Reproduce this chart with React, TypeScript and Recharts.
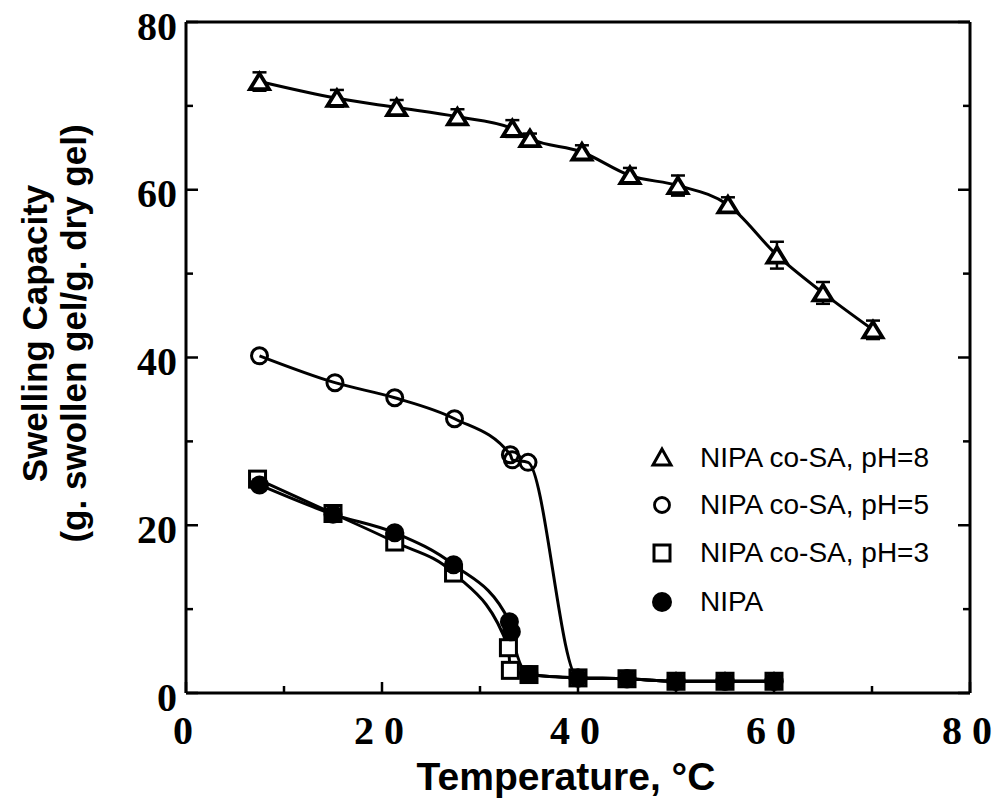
import React from 'react';
import { ComposedChart, Line, XAxis, YAxis, ErrorBar, Legend } from 'recharts';

const xTicks = [0, 10, 20, 30, 40, 50, 60, 70, 80];
const yTicks = [0, 10, 20, 30, 40, 50, 60, 70, 80];

// NIPA co-SA, pH=8 (open triangles, with error bars)
const ph8Temp = [7.5, 15.4, 21.5, 27.7, 33.3, 35.1, 40.4, 45.3, 50.2, 55.3, 60.3, 65.0, 70.1];
const ph8Swell = [72.9, 70.9, 69.8, 68.7, 67.3, 66.1, 64.5, 61.7, 60.5, 58.2, 52.2, 47.7, 43.3];
const ph8Err = [1.1, 1.0, 0.9, 0.9, 1.0, 0.6, 0.8, 0.9, 1.2, 0.9, 1.6, 1.3, 1.1];

// NIPA co-SA, pH=5 (open circles)
const ph5Temp = [7.5, 15.2, 21.3, 27.4, 33.1, 33.3, 34.9, 40, 45, 50, 55, 60];
const ph5Swell = [40.2, 37.0, 35.2, 32.7, 28.4, 27.8, 27.5, 1.8, 1.7, 1.4, 1.4, 1.4];

// NIPA co-SA, pH=3 (open squares)
const ph3Temp = [7.3, 15.0, 21.3, 27.3, 32.9, 33.1, 35.0, 40, 45, 50, 55, 60];
const ph3Swell = [25.5, 21.4, 18.0, 14.3, 5.4, 2.7, 2.2, 1.8, 1.7, 1.4, 1.4, 1.4];

// NIPA (filled circles)
const nipaTemp = [7.5, 15.0, 21.3, 27.3, 33.0, 33.2, 35.0, 40, 45, 50, 55, 60];
const nipaSwell = [24.8, 21.3, 19.1, 15.3, 8.5, 7.3, 2.2, 1.8, 1.7, 1.4, 1.4, 1.4];

const legendLabels = ['NIPA co-SA, pH=8', 'NIPA co-SA, pH=5', 'NIPA co-SA, pH=3', 'NIPA'];

const ph8Data = ph8Temp.map((t, i) => ({ t, v: ph8Swell[i], err: ph8Err[i] }));
const ph5Data = ph5Temp.map((t, i) => ({ t, v: ph5Swell[i] }));
const ph3Data = ph3Temp.map((t, i) => ({ t, v: ph3Swell[i] }));
const nipaData = nipaTemp.map((t, i) => ({ t, v: nipaSwell[i] }));

const serif = "'Liberation Serif', 'Times New Roman', serif";
const sans = "'Liberation Sans', Arial, Helvetica, sans-serif";

function Triangle({ cx, cy }: any) {
  return (
    <polygon
      points={`${cx},${cy - 8} ${cx - 9.5},${cy + 7.5} ${cx + 9.5},${cy + 7.5}`}
      fill="#fff"
      stroke="#000"
      strokeWidth={3.8}
    />
  );
}

function OpenCircle({ cx, cy }: any) {
  return <circle cx={cx} cy={cy} r={8} fill="none" stroke="#000" strokeWidth={3} />;
}

function OpenSquare({ cx, cy }: any) {
  return <rect x={cx - 8} y={cy - 8} width={16} height={16} fill="#fff" stroke="#000" strokeWidth={3} />;
}

function FilledCircle({ cx, cy }: any) {
  return <circle cx={cx} cy={cy} r={9.5} fill="#000" stroke="none" />;
}

const isMajor = (v: number) => v % 20 === 0;

function LeftTick({ x, y, payload }: any) {
  const major = isMajor(payload.value);
  return (
    <g>
      <line x1={x} y1={y} x2={x + (major ? 12 : 7)} y2={y} stroke="#000" strokeWidth={2.5} />
      {major && (
        <text x={x - 9} y={y + 4} textAnchor="end" dominantBaseline="central"
          fontFamily={serif} fontWeight="bold" fontSize={40} fill="#000">
          {payload.value}
        </text>
      )}
    </g>
  );
}

function RightTick({ x, y, payload }: any) {
  const major = isMajor(payload.value);
  return <line x1={x} y1={y} x2={x - (major ? 12 : 7)} y2={y} stroke="#000" strokeWidth={2.5} />;
}

function BottomTick({ x, y, payload }: any) {
  const major = isMajor(payload.value);
  return (
    <g>
      <line x1={x} y1={y} x2={x} y2={y - (major ? 11 : 7)} stroke="#000" strokeWidth={2.5} />
      {major && (
        <text x={x - 3} y={y + 37} textAnchor="middle" dominantBaseline="central"
          fontFamily={serif} fontWeight="bold" fontSize={40} fill="#000">
          {String(payload.value).split('').join(' ')}
        </text>
      )}
    </g>
  );
}

function TopTick({ x, y, payload }: any) {
  const major = isMajor(payload.value);
  return <line x1={x} y1={y} x2={x} y2={y + (major ? 11 : 7)} stroke="#000" strokeWidth={2.5} />;
}

function YLabel({ viewBox }: any) {
  const cy = viewBox.y + viewBox.height / 2 - 24;
  const x1 = viewBox.x - 92;
  const x2 = viewBox.x - 53;
  const style = { fontFamily: sans, fontWeight: 'bold' as const, fontSize: 35, fill: '#000' };
  return (
    <g>
      <text x={x1} y={cy} transform={`rotate(-90 ${x1} ${cy})`} textAnchor="middle" dominantBaseline="central" style={style}>
        Swelling Capacity
      </text>
      <text x={x2} y={cy} transform={`rotate(-90 ${x2} ${cy})`} textAnchor="middle" dominantBaseline="central" style={style}>
        (g. swollen gel/g. dry gel)
      </text>
    </g>
  );
}

function XLabel({ viewBox }: any) {
  const cx = viewBox.x + viewBox.width / 2 - 12;
  return (
    <text x={cx} y={viewBox.y + 83} textAnchor="middle" dominantBaseline="central"
      fontFamily={sans} fontWeight="bold" fontSize={39} fill="#000">
      Temperature,  °C
    </text>
  );
}

const legendIcons = [
  <polygon key="t" points="22,6 13,22 31,22" fill="#fff" stroke="#000" strokeWidth={3} />,
  <circle key="c" cx={22} cy={15} r={7.5} fill="none" stroke="#000" strokeWidth={2.8} />,
  <rect key="s" x={14} y={7} width={16} height={16} fill="#fff" stroke="#000" strokeWidth={3} />,
  <circle key="f" cx={22} cy={15} r={10} fill="#000" />,
];

function LegendContent() {
  return (
    <div style={{ fontFamily: sans, fontSize: 28, color: '#000' }}>
      {legendLabels.map((label, i) => (
        <div key={label} style={{ display: 'flex', alignItems: 'center', height: i === 2 ? 50 : 47 }}>
          <svg width={44} height={30}>{legendIcons[i]}</svg>
          <span style={{ marginLeft: 16, lineHeight: 1 }}>{label}</span>
        </div>
      ))}
    </div>
  );
}

export default function App() {
  return (
    <div style={{ position: 'absolute', left: 0, top: 0, background: '#fff' }}>
      <ComposedChart width={1004} height={802} margin={{ top: 21, right: 33, bottom: 79, left: 126 }}>
        <XAxis
          xAxisId="x"
          dataKey="t"
          type="number"
          domain={[0, 80]}
          ticks={xTicks}
          interval={0}
          allowDataOverflow
          height={30}
          tickSize={0}
          tickMargin={0}
          tickLine={false}
          axisLine={{ stroke: '#000', strokeWidth: 3 }}
          tick={<BottomTick />}
          label={<XLabel />}
        />
        <XAxis
          xAxisId="top"
          orientation="top"
          type="number"
          domain={[0, 80]}
          ticks={xTicks}
          interval={0}
          allowDataOverflow
          height={1}
          tickSize={0}
          tickMargin={0}
          tickLine={false}
          axisLine={{ stroke: '#000', strokeWidth: 3 }}
          tick={<TopTick />}
        />
        <YAxis
          yAxisId="y"
          type="number"
          domain={[0, 80]}
          ticks={yTicks}
          interval={0}
          allowDataOverflow
          width={60}
          tickSize={0}
          tickMargin={0}
          tickLine={false}
          axisLine={{ stroke: '#000', strokeWidth: 3 }}
          tick={<LeftTick />}
          label={<YLabel />}
        />
        <YAxis
          yAxisId="right"
          orientation="right"
          type="number"
          domain={[0, 80]}
          ticks={yTicks}
          interval={0}
          allowDataOverflow
          width={1}
          tickSize={0}
          tickMargin={0}
          tickLine={false}
          axisLine={{ stroke: '#000', strokeWidth: 3 }}
          tick={<RightTick />}
        />
        <Legend
          layout="vertical"
          align="center"
          verticalAlign="middle"
          wrapperStyle={{ left: 640, top: 434, width: 330 }}
          content={<LegendContent />}
        />
        <Line
          xAxisId="x"
          yAxisId="y"
          data={ph8Data}
          dataKey="v"
          type="monotone"
          stroke="#000"
          strokeWidth={3}
          dot={<Triangle />}
          activeDot={false}
          isAnimationActive={false}
        >
          <ErrorBar dataKey="err" direction="y" width={7} stroke="#000" strokeWidth={2.5} />
        </Line>
        <Line
          xAxisId="x"
          yAxisId="y"
          data={ph5Data}
          dataKey="v"
          type="monotone"
          stroke="#000"
          strokeWidth={3}
          dot={<OpenCircle />}
          activeDot={false}
          isAnimationActive={false}
        />
        <Line
          xAxisId="x"
          yAxisId="y"
          data={ph3Data}
          dataKey="v"
          type="monotone"
          stroke="#000"
          strokeWidth={3}
          dot={<OpenSquare />}
          activeDot={false}
          isAnimationActive={false}
        />
        <Line
          xAxisId="x"
          yAxisId="y"
          data={nipaData}
          dataKey="v"
          type="monotone"
          stroke="#000"
          strokeWidth={3}
          dot={<FilledCircle />}
          activeDot={false}
          isAnimationActive={false}
        />
      </ComposedChart>
    </div>
  );
}
